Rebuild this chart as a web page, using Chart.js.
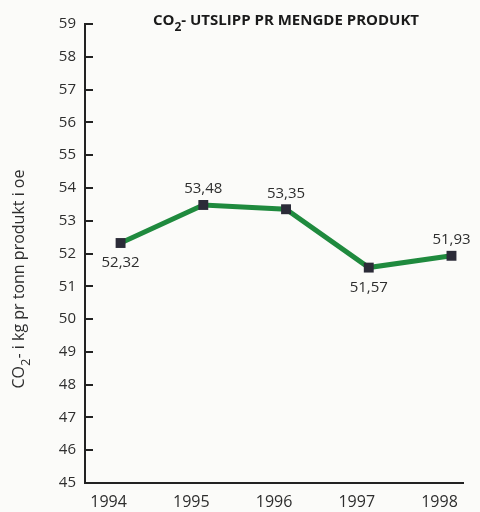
<!DOCTYPE html>
<html>
<head>
<meta charset="utf-8">
<script src="https://cdn.jsdelivr.net/npm/chart.js@4/dist/chart.umd.min.js"></script>
<style>
  html, body { margin: 0; padding: 0; background: #fbfbf9; }
  #wrap { width: 480px; height: 512px; }
</style>
</head>
<body>
<div id="wrap"><canvas id="c" width="480" height="512"></canvas></div>
<script>
// CO2 per tonne of product, 1994–1998
const years = [1994, 1995, 1996, 1997, 1998];
const co2PerTonne = [52.32, 53.48, 53.35, 51.57, 51.93];
const labelSide = ['below', 'above', 'above', 'below', 'above'];

const FONT = '"Open Sans", "Noto Sans", sans-serif';
const TEXT = '#2e2e2e';
const AXIS = '#222222';

// Draws text runs where some runs are subscripts, centred on x
function drawRuns(ctx, runs, x, y, size, weight) {
  const subSize = Math.round(size * 0.8);
  const widths = runs.map(r => {
    ctx.font = `${weight} ${r.sub ? subSize : size}px ${FONT}`;
    return ctx.measureText(r.t).width;
  });
  const total = widths.reduce((a, b) => a + b, 0);
  let cx = x - total / 2;
  runs.forEach((r, i) => {
    ctx.font = `${weight} ${r.sub ? subSize : size}px ${FONT}`;
    ctx.fillText(r.t, cx, r.sub ? y + size * 0.38 : y);
    cx += widths[i];
  });
}

const decor = {
  id: 'decor',
  beforeDraw(chart) {
    const { ctx } = chart;
    ctx.save();
    ctx.fillStyle = '#fbfbf9';
    ctx.fillRect(0, 0, chart.width, chart.height);
    ctx.restore();
  },
  afterDraw(chart) {
    const { ctx, chartArea } = chart;
    const ys = chart.scales.y;
    ctx.save();

    // inward tick marks on the value axis
    ctx.strokeStyle = AXIS;
    ctx.lineWidth = 2;
    ys.ticks.forEach(t => {
      const py = Math.round(ys.getPixelForValue(t.value));
      ctx.beginPath();
      ctx.moveTo(chartArea.left, py);
      ctx.lineTo(chartArea.left + 8, py);
      ctx.stroke();
    });

    // chart title
    ctx.fillStyle = '#1a1a1a';
    ctx.textBaseline = 'alphabetic';
    drawRuns(ctx, [{ t: 'CO' }, { t: '2', sub: true }, { t: '- UTSLIPP PR MENGDE PRODUKT' }],
      286, 25, 15, 'bold');

    // value axis title (rotated)
    ctx.save();
    ctx.translate(24, 279);
    ctx.rotate(-Math.PI / 2);
    ctx.fillStyle = TEXT;
    drawRuns(ctx, [{ t: 'CO' }, { t: '2', sub: true }, { t: '- i kg pr tonn produkt i oe' }],
      0, 0, 16, 'normal');
    ctx.restore();

    // value labels
    const meta = chart.getDatasetMeta(0);
    ctx.fillStyle = TEXT;
    ctx.font = `15px ${FONT}`;
    ctx.textAlign = 'center';
    ctx.textBaseline = 'middle';
    meta.data.forEach((pt, i) => {
      const txt = co2PerTonne[i].toFixed(2).replace('.', ',');
      const w = ctx.measureText(txt).width;
      let cx = pt.x;
      if (cx + w / 2 > chart.width) cx = chart.width - w / 2;
      const cy = labelSide[i] === 'below' ? pt.y + 20 : pt.y - 16;
      ctx.fillText(txt, cx, cy);
    });
    ctx.restore();
  }
};

new Chart(document.getElementById('c'), {
  type: 'line',
  data: {
    datasets: [{
      data: years.map((yr, i) => ({ x: yr, y: co2PerTonne[i] })),
      borderColor: '#1f8a3e',
      borderWidth: 5,
      tension: 0,
      pointStyle: 'rect',
      pointRadius: 7,
      pointBackgroundColor: '#2b2b38',
      pointBorderColor: '#2b2b38',
      pointBorderWidth: 0,
      clip: false
    }]
  },
  options: {
    responsive: false,
    animation: false,
    layout: { padding: { top: 24, left: 0, right: 0, bottom: 0 } },
    plugins: { legend: { display: false }, tooltip: { enabled: false }, title: { display: false } },
    scales: {
      x: {
        type: 'linear',
        min: 1993.57,
        max: 1998.14,
        afterBuildTicks: s => { s.ticks = years.map(v => ({ value: v })); },
        afterFit: s => { s.height = 29; },
        grid: { display: false, drawTicks: false },
        border: { display: true, color: AXIS, width: 2 },
        ticks: {
          callback: v => String(v),
          color: TEXT,
          font: { family: FONT, size: 16 },
          padding: 10,
          labelOffset: -12,
          autoSkip: false,
          maxRotation: 0
        }
      },
      y: {
        min: 45,
        max: 59,
        afterFit: s => { s.width = 85; },
        grid: { display: false, drawTicks: false },
        border: { display: true, color: AXIS, width: 2 },
        ticks: {
          stepSize: 1,
          color: TEXT,
          font: { family: FONT, size: 15 },
          padding: 9
        }
      }
    }
  },
  plugins: [decor]
});
</script>
</body>
</html>
